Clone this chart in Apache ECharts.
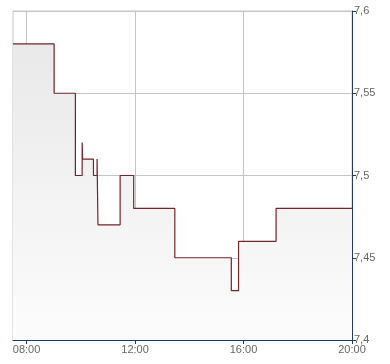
<!DOCTYPE html>
<html>
<head>
<meta charset="utf-8">
<script src="https://cdn.jsdelivr.net/npm/echarts@6/dist/echarts.min.js"></script>
<style>
html,body{margin:0;padding:0;background:#fff;}
#c{width:390px;height:364px;}
</style>
</head>
<body>
<div id="c"></div>
<script>
var times = ["07:30","09:01","09:48","10:03","10:04","10:28","10:36","10:38","11:27","11:57","13:28","15:33","15:49","17:12","20:00"];
var prices = [7.58,7.55,7.50,7.52,7.51,7.50,7.51,7.47,7.50,7.48,7.45,7.43,7.46,7.48,7.48];
var xTickHours = [8,12,16,20];
var yTicks = [7.4,7.45,7.5,7.55,7.6];

function toHours(s){var p=s.split(":");return (+p[0])+(+p[1])/60;}
function fmtHour(v){var h=Math.round(v);return (h<10?"0":"")+h+":00";}
var data = times.map(function(t,i){return [toHours(t),prices[i]];});

var chart = echarts.init(document.getElementById('c'));
chart.setOption({
  animation:false,
  grid:{left:13,top:11,right:38,bottom:24,show:true,borderColor:'#c4c4c4',borderWidth:1,backgroundColor:'transparent'},
  xAxis:{
    type:'value',min:7.5,max:20,
    axisLine:{show:true,lineStyle:{color:'#1f3a6b',width:1}},
    axisTick:{show:true,customValues:xTickHours,length:4,lineStyle:{color:'#1f3a6b'}},
    axisLabel:{customValues:xTickHours,formatter:fmtHour,color:'#666',fontSize:11,fontFamily:'Liberation Sans, Arial, sans-serif',margin:4},
    splitLine:{show:true,lineStyle:{color:'#c4c4c4',width:1}}
  },
  yAxis:{
    type:'value',position:'right',min:7.4,max:7.6,interval:0.05,
    axisLine:{show:true,lineStyle:{color:'#1f3a6b',width:1}},
    axisTick:{show:true,length:4,lineStyle:{color:'#1f3a6b'}},
    axisLabel:{formatter:function(v){return String(+v.toFixed(2)).replace('.',',');},color:'#666',fontSize:11,fontFamily:'Liberation Sans, Arial, sans-serif',margin:2},
    splitLine:{show:true,lineStyle:{color:'#c4c4c4',width:1}}
  },
  series:[{
    type:'line',step:'end',data:data,showSymbol:false,symbol:'none',
    lineStyle:{color:'#722428',width:1.2},
    areaStyle:{color:new echarts.graphic.LinearGradient(0,0,0,1,[{offset:0,color:'#e9e9e9'},{offset:1,color:'#fcfcfc'}]),opacity:1}
  }]
});
</script>
</body>
</html>
